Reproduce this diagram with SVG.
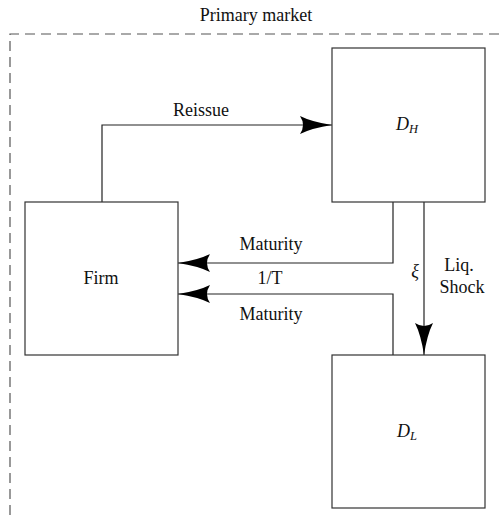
<svg xmlns="http://www.w3.org/2000/svg" width="499" height="515" viewBox="0 0 499 515">
  <style>
    .box { fill: #fff; stroke: #333; stroke-width: 1.2; }
    .wire { fill: none; stroke: #222; stroke-width: 1.2; }
    .frame { fill: none; stroke: #555; stroke-width: 1.2; stroke-dasharray: 10 6; }
    .lbl { font-size: 18px; fill: #111; }
    .mid { text-anchor: middle; }
    .it { font-style: italic; }
    .sub { font-size: 12.5px; font-style: italic; }
  </style>
  <defs>
    <!-- swept-back arrowhead, tip at the path end -->
    <marker id="head" viewBox="0 0 32 18" refX="32" refY="9" markerWidth="32" markerHeight="18" markerUnits="userSpaceOnUse" orient="auto">
      <path d="M0,0 Q12,6 32,9 Q12,12 0,18 Q6,9 0,0 Z" fill="#000"/>
    </marker>
  </defs>

  <rect width="499" height="515" fill="#fff"/>

  <g font-family="Liberation Serif, Times New Roman, serif">
  <!-- primary market boundary -->
  <g id="primary-market">
    <path class="frame" d="M10,515 V34 H499"/>
    <text class="lbl mid" x="256" y="21">Primary market</text>
  </g>

  <!-- connectors -->
  <g id="connectors">
    <path class="wire" d="M102,202 V125 H332" marker-end="url(#head)"/>
    <text class="lbl mid" x="201" y="116">Reissue</text>

    <path class="wire" d="M393,202 V263 H178" marker-end="url(#head)"/>
    <text class="lbl mid" x="271" y="250">Maturity</text>

    <text class="lbl mid" x="270" y="284">1/T</text>

    <path class="wire" d="M393,355 V294 H178" marker-end="url(#head)"/>
    <text class="lbl mid" x="271" y="320">Maturity</text>

    <path class="wire" d="M424,202 V355" marker-end="url(#head)"/>
    <text class="lbl mid it" x="415" y="277">ξ</text>
    <text class="lbl mid" x="459" y="271">Liq.</text>
    <text class="lbl mid" x="462" y="293">Shock</text>
  </g>

  <g id="node-firm">
    <rect class="box" x="25" y="202" width="153" height="153"/>
    <text class="lbl mid" x="101" y="284">Firm</text>
  </g>

  <g id="node-dh">
    <rect class="box" x="332" y="48" width="153" height="154"/>
    <text class="lbl" x="396" y="130"><tspan class="it">D</tspan><tspan class="sub" dy="3">H</tspan></text>
  </g>

  <g id="node-dl">
    <rect class="box" x="332" y="355" width="153" height="153"/>
    <text class="lbl" x="397" y="437"><tspan class="it">D</tspan><tspan class="sub" dy="3">L</tspan></text>
  </g>
  </g>
</svg>
